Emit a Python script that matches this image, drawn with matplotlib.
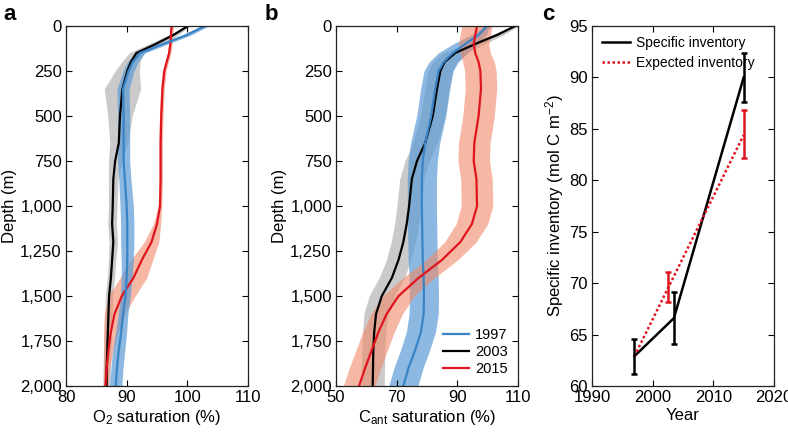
import numpy as np
import matplotlib
matplotlib.use('Agg')
import matplotlib.pyplot as plt

plt.rcParams['font.family'] = ['Liberation Sans', 'DejaVu Sans']
plt.rcParams['mathtext.fontset'] = 'custom'
plt.rcParams['mathtext.rm'] = 'Liberation Sans'
plt.rcParams['mathtext.it'] = 'Liberation Sans:italic'
plt.rcParams['font.size'] = 12

# depth grid (m)
depth = [0, 50, 100, 150, 200, 250, 350, 500, 650, 750, 850, 1000,
         1100, 1200, 1300, 1400, 1500, 1600, 1700, 1800, 1900, 2000]

# panel a: O2 saturation (%)
o2_1997 = [102.9, 99.9, 96.0, 92.2, 91.0, 90.3, 89.4, 89.5, 89.5, 89.5, 89.7, 90.0,
           90.1, 90.1, 90.1, 90.0, 89.8, 89.4, 89.1, 88.7, 88.4, 88.2]
o2_1997_err = [0.6, 0.7, 0.8, 0.8, 0.9, 0.9, 1.0, 1.0, 1.0, 1.0, 1.0, 1.1,
               1.1, 1.1, 1.0, 0.9, 0.8, 0.8, 0.9, 1.0, 1.0, 1.0]
o2_2003 = [100.1, 97.7, 94.8, 91.6, 90.7, 90.1, 89.3, 88.9, 88.7, 88.1, 87.8, 87.7,
           87.6, 87.8, 87.6, 87.4, 87.1, 87.0, 86.9, 86.8, 86.7, 86.7]
o2_2003_err = [0.3, 0.8, 1.2, 1.2, 1.5, 2.0, 3.0, 2.0, 1.5, 1.1, 0.8, 0.7,
               0.7, 0.7, 0.6, 0.6, 0.6, 0.6, 0.6, 0.6, 0.6, 0.6]
o2_2015 = [97.4, 97.3, 97.2, 97.0, 96.6, 96.2, 95.9, 95.7, 95.6, 95.6, 95.6, 95.5,
           95.0, 94.1, 92.5, 91.1, 89.2, 88.0, 87.4, 87.0, 86.7, 86.5]
o2_2015_err = [0.3, 0.3, 0.3, 0.3, 0.3, 0.3, 0.3, 0.3, 0.3, 0.3, 0.3, 0.3,
               0.6, 1.2, 1.8, 2.2, 2.2, 1.7, 1.2, 0.8, 0.5, 0.4]

# panel b: Cant saturation (%)
cant_1997 = [99.8, 97.0, 92.6, 88.5, 85.5, 83.8, 82.7, 81.4, 79.4, 78.6, 78.3, 78.3,
             78.4, 78.5, 78.6, 78.9, 79.0, 78.9, 78.0, 76.1, 73.9, 72.2]
cant_1997_err = [1.0, 2.5, 4.0, 4.8, 4.8, 4.8, 4.8, 4.8, 4.8, 4.8, 4.8, 4.8,
                 4.8, 4.8, 4.8, 4.8, 4.8, 4.8, 4.8, 4.8, 4.8, 4.8]
cant_2003 = [109.1, 103.1, 95.9, 89.3, 85.8, 84.4, 83.3, 81.9, 79.4, 76.7, 75.0, 74.1,
             73.3, 72.2, 70.6, 68.4, 65.1, 63.2, 62.6, 62.3, 62.2, 62.1]
cant_2003_err = [1.0, 2.0, 3.0, 4.0, 4.0, 4.0, 4.0, 4.0, 4.0, 4.0, 4.0, 4.0,
                 4.0, 4.0, 4.0, 4.2, 4.2, 4.0, 3.8, 3.8, 3.8, 3.8]
cant_2015 = [96.5, 95.9, 95.4, 95.9, 97.0, 97.6, 97.8, 97.0, 95.6, 95.4, 96.3, 96.5,
             94.8, 91.0, 84.9, 77.2, 70.6, 66.7, 64.0, 61.8, 59.6, 57.6]
cant_2015_err = [5.0, 5.0, 5.0, 5.0, 5.2, 5.2, 5.2, 5.2, 5.2, 5.2, 5.2, 5.2,
                 5.2, 5.2, 5.2, 5.2, 5.2, 5.2, 5.2, 5.2, 5.2, 5.2]

# panel c: inventories
spec_year = [1997, 2003.5, 2015]
spec_inv = [62.9, 66.6, 90.0]
spec_err = [1.7, 2.5, 2.4]
exp_year = [1997, 2002.6, 2015]
exp_inv = [62.9, 69.6, 84.4]
exp_bar_year = [2002.6, 2015]
exp_bar_inv = [69.6, 84.5]
exp_bar_err = [1.45, 2.3]

depth_ticks = [0, 250, 500, 750, 1000, 1250, 1500, 1750, 2000]
depth_labels = ['0', '250', '500', '750', '1,000', '1,250', '1,500', '1,750', '2,000']

BLUE = '#3a83c4'
BLUE_BAND = '#5b9bd5'
GRAY_BAND = '#b4b4b4'
RED = '#e0141e'
RED_BAND = '#f08a68'

fig = plt.figure(figsize=(7.88, 4.32), dpi=100)
W, H = 788., 432.
axa = fig.add_axes([66/W, 46/H, 182/W, 360/H])
axb = fig.add_axes([336/W, 46/H, 182/W, 360/H])
axc = fig.add_axes([592/W, 46/H, 182/W, 360/H])


def style(ax):
    ax.tick_params(direction='in', top=True, right=True, length=4, width=0.8,
                   labelsize=12, pad=3)
    for s in ax.spines.values():
        s.set_linewidth(0.9)
        s.set_color('#222222')


def profile(ax, vals, err, line_col, band_col, band_alpha, label):
    v = np.array(vals)
    e = np.array(err)
    ax.fill_betweenx(depth, v - e, v + e, color=band_col, alpha=band_alpha, lw=0)
    ax.plot(vals, depth, color=line_col, lw=1.6, label=label)


# panel a
profile(axa, o2_2003, o2_2003_err, 'black', GRAY_BAND, 0.7, '2003')
profile(axa, o2_2015, o2_2015_err, RED, RED_BAND, 0.6, '2015')
profile(axa, o2_1997, o2_1997_err, BLUE, BLUE_BAND, 0.7, '1997')
axa.set_xlim(80, 110)
axa.set_xticks([80, 90, 100, 110])
axa.set_xlabel('O$_2$ saturation (%)', labelpad=2)

# panel b
profile(axb, cant_2003, cant_2003_err, 'black', GRAY_BAND, 0.7, '2003')
profile(axb, cant_1997, cant_1997_err, BLUE, BLUE_BAND, 0.7, '1997')
profile(axb, cant_2015, cant_2015_err, RED, RED_BAND, 0.6, '2015')
axb.set_xlim(50, 110)
axb.set_xticks([50, 70, 90, 110])
axb.set_xlabel('C$_{\\mathrm{ant}}$ saturation (%)', labelpad=2)
h, l = axb.get_legend_handles_labels()
order = [l.index('1997'), l.index('2003'), l.index('2015')]
axb.legend([h[i] for i in order], [l[i] for i in order], loc='lower right',
           frameon=False, fontsize=10.5, handlelength=1.8, handletextpad=0.4,
           labelspacing=0.2, borderaxespad=0.3)

for ax in (axa, axb):
    ax.set_ylim(2000, 0)
    ax.set_yticks(depth_ticks)
    ax.set_yticklabels(depth_labels)
    ax.set_ylabel('Depth (m)', labelpad=2)
    style(ax)

# panel c
axc.plot(spec_year, spec_inv, color='black', lw=1.8, label='Specific inventory')
axc.plot(exp_year, exp_inv, color=RED, lw=1.8, ls=(0, (1, 1)), label='Expected inventory')
axc.errorbar(spec_year, spec_inv, yerr=spec_err, fmt='none', ecolor='black',
             elinewidth=1.8, capsize=2.5, capthick=1.8)
axc.errorbar(exp_bar_year, exp_bar_inv, yerr=exp_bar_err, fmt='none', ecolor=RED,
             elinewidth=1.8, capsize=2.5, capthick=1.8)
axc.set_xlim(1990, 2020)
axc.set_ylim(60, 95)
axc.set_xticks([1990, 2000, 2010, 2020])
axc.set_yticks([60, 65, 70, 75, 80, 85, 90, 95])
axc.set_xlabel('Year', labelpad=2)
axc.set_ylabel('Specific inventory (mol C m$^{-2}$)', labelpad=2)
axc.legend(loc='upper left', frameon=False, fontsize=10, handlelength=2.0,
           handletextpad=0.5, labelspacing=0.45, borderaxespad=0.3)
style(axc)

fig.text(3/W, 1 - 14/H, 'a', fontsize=16, fontweight='bold', va='center')
fig.text(265/W, 1 - 14/H, 'b', fontsize=16, fontweight='bold', va='center')
fig.text(542/W, 1 - 14/H, 'c', fontsize=16, fontweight='bold', va='center')

fig.savefig('out.png', dpi=100)
